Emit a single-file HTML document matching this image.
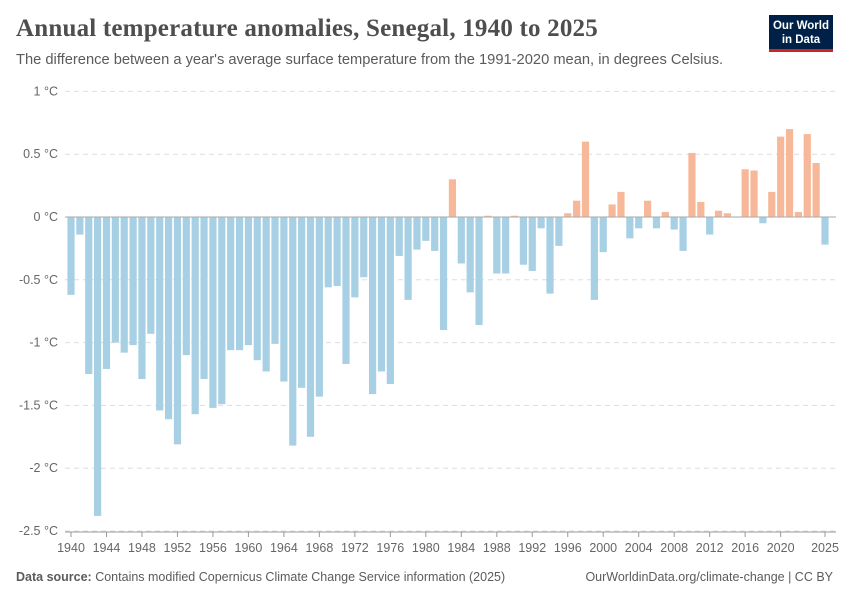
<!DOCTYPE html>
<html><head><meta charset="utf-8"><style>
body{margin:0;width:850px;height:600px;background:#fff;font-family:"Liberation Sans",sans-serif;overflow:hidden;position:relative}
.t{position:absolute;left:16px;top:15px;font-family:"Liberation Serif",serif;font-size:25px;font-weight:bold;color:#4e4e4e;letter-spacing:0.2px}
.s{position:absolute;left:16px;top:52px;font-size:14.7px;color:#5b5b5b}
.logo{position:absolute;left:769px;top:15px;width:64px;height:37px;background:#002147;border-bottom:3px solid #ce261e;color:#fff;font-size:11.5px;font-weight:bold;text-align:center;line-height:14px;box-sizing:border-box;padding-top:4px}
.f{position:absolute;top:570px;font-size:12.5px;color:#5b5b5b}
</style></head><body>
<div class="t">Annual temperature anomalies, Senegal, 1940 to 2025</div>
<div class="s">The difference between a year's average surface temperature from the 1991-2020 mean, in degrees Celsius.</div>
<div class="logo">Our World<br>in Data</div>
<div class="f" style="left:16px"><b>Data source:</b> Contains modified Copernicus Climate Change Service information (2025)</div>
<div class="f" style="right:17px">OurWorldinData.org/climate-change | CC BY</div>
<svg id="c" width="850" height="600" style="position:absolute;left:0;top:0"></svg>
<script>
const years=[];for(let y=1940;y<=2025;y++)years.push(y);
const values=[-0.62,-0.14,-1.25,-2.38,-1.21,-1.0,-1.08,-1.02,-1.29,-0.93,-1.54,-1.61,-1.81,-1.10,-1.57,-1.29,-1.52,-1.49,-1.06,-1.06,-1.02,-1.14,-1.23,-1.01,-1.31,-1.82,-1.36,-1.75,-1.43,-0.56,-0.55,-1.17,-0.64,-0.48,-1.41,-1.23,-1.33,-0.31,-0.66,-0.26,-0.19,-0.27,-0.90,0.30,-0.37,-0.60,-0.86,0.01,-0.45,-0.45,0.01,-0.38,-0.43,-0.09,-0.61,-0.23,0.03,0.13,0.60,-0.66,-0.28,0.10,0.20,-0.17,-0.09,0.13,-0.09,0.04,-0.10,-0.27,0.51,0.12,-0.14,0.05,0.03,0.00,0.38,0.37,-0.05,0.20,0.64,0.70,0.04,0.66,0.43,-0.22];
const yTicks=[1,0.5,0,-0.5,-1,-1.5,-2,-2.5];
const yLabels=["1 °C","0.5 °C","0 °C","-0.5 °C","-1 °C","-1.5 °C","-2 °C","-2.5 °C"];
const xTicks=[1940,1944,1948,1952,1956,1960,1964,1968,1972,1976,1980,1984,1988,1992,1996,2000,2004,2008,2012,2016,2020,2025];
const svg=document.getElementById('c'),NS='http://www.w3.org/2000/svg';
const ys=v=>217-v*125.6, xs=y=>71+(y-1940)*(754/85);
function mk(t,a){const e=document.createElementNS(NS,t);for(const k in a)e.setAttribute(k,a[k]);svg.appendChild(e);return e;}
yTicks.forEach((v,i)=>{
 if(v!==0){const l=mk('line',{x1:65,x2:836,y1:ys(v),y2:ys(v),stroke:'#ddd','stroke-dasharray':'5,4'});
 
 }
 const t=mk('text',{x:58,y:ys(v)+4,'text-anchor':'end','font-size':'12.5','fill':'#666','font-family':'Liberation Sans'});
 t.textContent=yLabels[i];
 
 
});
values.forEach((v,i)=>{
 const x=xs(years[i]),y0=ys(0),y1=ys(v);
 const r=mk('rect',{x:x-3.6,width:7.2,y:Math.min(y0,y1),height:Math.max(Math.abs(y1-y0),0.6),fill:v>=0?'#f7b89a':'#a8d0e4'});
 
 
});
const z=mk('line',{x1:65,x2:836,y1:ys(0),y2:ys(0),stroke:'#aaa','stroke-width':1});


const ax=mk('line',{x1:65,x2:836,y1:532,y2:532,stroke:'#999'});


xTicks.forEach(y=>{
 const tk=mk('line',{x1:xs(y),x2:xs(y),y1:532,y2:537,stroke:'#999'});
 
 
 const t=mk('text',{x:xs(y),y:552,'text-anchor':'middle','font-size':'12.5','fill':'#666','font-family':'Liberation Sans'});
 t.textContent=y;
 
 
});
</script>
</body></html>
